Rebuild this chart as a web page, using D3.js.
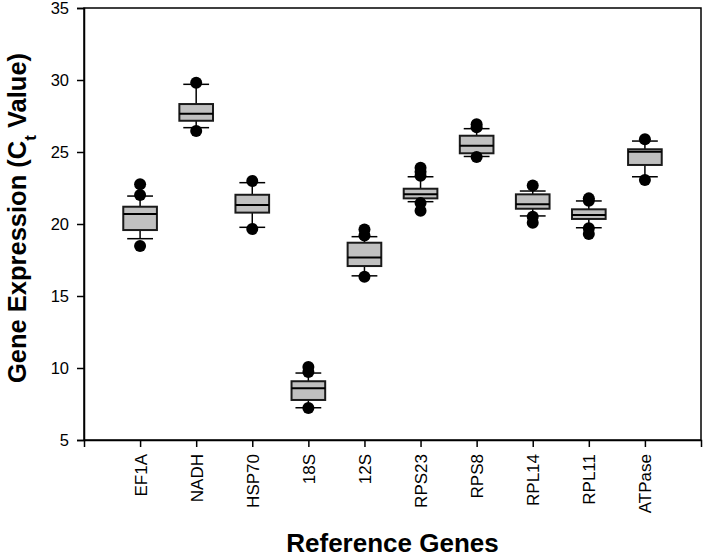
<!DOCTYPE html>
<html><head><meta charset="utf-8">
<script src="https://cdn.jsdelivr.net/npm/d3@7"></script>
<style>body{margin:0;background:#fff;} text{font-family:"Liberation Sans",Arial,sans-serif;}</style>
</head><body>
<svg id="chart" width="704" height="559"></svg>
<script>
const genes = ["EF1A","NADH","HSP70","18S","12S","RPS23","RPS8","RPL14","RPL11","ATPase"];
const whiskerLow  = [18.98, 26.69, 19.77, 7.24, 16.40, 21.55, 24.69, 20.56, 19.74, 23.28];
const q1          = [19.58, 27.17, 20.79, 7.78, 17.08, 21.78, 24.91, 21.06, 20.35, 24.10];
const median      = [20.69, 27.66, 21.32, 8.59, 17.67, 22.06, 25.44, 21.37, 20.63, 25.02];
const q3          = [21.20, 28.33, 22.03, 9.08, 18.70, 22.45, 26.13, 22.06, 21.02, 25.19];
const whiskerHigh = [21.94, 29.70, 22.87, 9.65, 19.12, 23.28, 26.62, 22.29, 21.60, 25.76];
const outliers = [
  [22.76, 22.01, 18.47],
  [29.81, 26.46],
  [22.99, 19.65],
  [10.07, 9.72, 7.22],
  [19.62, 19.20, 16.34],
  [23.91, 23.62, 23.35, 21.45, 20.92],
  [26.92, 26.72, 24.65],
  [22.67, 20.51, 20.09],
  [21.78, 21.62, 19.70, 19.31],
  [25.88, 23.06]
];
const yTicks = [5, 10, 15, 20, 25, 30, 35];

const svg = d3.select("#chart");
const mLeft = 84, mRight = 701, mTop = 8, mBottom = 440;
const x = d3.scaleLinear().domain([0, 11]).range([mLeft, mRight]);
const y = d3.scaleLinear().domain([5, 35]).range([mBottom, mTop]);
const boxW = x(0.6) - x(0), capW = x(0.46) - x(0);

// frame
svg.append("rect").attr("x", mLeft).attr("y", mTop).attr("width", mRight - mLeft).attr("height", mBottom - mTop)
  .attr("fill", "none").attr("stroke", "#000").attr("stroke-width", 1.5);

// y axis
const yAxis = svg.append("g").attr("transform", `translate(${mLeft},0)`)
  .call(d3.axisLeft(y).tickValues(yTicks).tickFormat(d3.format("d")).tickSize(7).tickPadding(8));
yAxis.select(".domain").attr("stroke-width", 1.5);
yAxis.selectAll(".tick line").attr("stroke-width", 1.5);
yAxis.selectAll("text").attr("font-size", 16.5).attr("fill", "#000").style("font-family", "Liberation Sans, Arial, sans-serif");

// x axis
const xAxis = svg.append("g").attr("transform", `translate(0,${mBottom})`)
  .call(d3.axisBottom(x).tickValues(d3.range(1, genes.length + 1)).tickFormat(i => genes[i - 1]).tickSize(7));
xAxis.select(".domain").attr("stroke-width", 1.5);
xAxis.selectAll(".tick line").attr("stroke-width", 1.5);
xAxis.selectAll("text").attr("font-size", 17).attr("fill", "#000")
  .style("font-family", "Liberation Sans, Arial, sans-serif")
  .attr("transform", "rotate(-90)").attr("text-anchor", "end")
  .attr("x", -14).attr("y", 0).attr("dy", "0.35em");

// boxes
const g = svg.append("g");
genes.forEach((name, i) => {
  const cx = x(i + 1);
  g.append("line").attr("x1", cx).attr("x2", cx).attr("y1", y(whiskerLow[i])).attr("y2", y(q1[i]))
    .attr("stroke", "#000").attr("stroke-width", 1.5);
  g.append("line").attr("x1", cx).attr("x2", cx).attr("y1", y(q3[i])).attr("y2", y(whiskerHigh[i]))
    .attr("stroke", "#000").attr("stroke-width", 1.5);
  [whiskerLow[i], whiskerHigh[i]].forEach(v => {
    g.append("line").attr("x1", cx - capW / 2).attr("x2", cx + capW / 2).attr("y1", y(v)).attr("y2", y(v))
      .attr("stroke", "#000").attr("stroke-width", 1.5);
  });
  g.append("rect").attr("x", cx - boxW / 2).attr("y", y(q3[i])).attr("width", boxW)
    .attr("height", y(q1[i]) - y(q3[i])).attr("fill", "#c0c0c0").attr("stroke", "#1a1a1a").attr("stroke-width", 2);
  g.append("line").attr("x1", cx - boxW / 2).attr("x2", cx + boxW / 2).attr("y1", y(median[i])).attr("y2", y(median[i]))
    .attr("stroke", "#000").attr("stroke-width", 2);
  outliers[i].forEach(v => {
    g.append("circle").attr("cx", cx).attr("cy", y(v)).attr("r", 6).attr("fill", "#000");
  });
});

// titles
const yt = svg.append("text").attr("transform", `translate(26,218) rotate(-90)`)
  .attr("text-anchor", "middle").attr("font-size", 25.5).attr("font-weight", "bold").attr("fill", "#000");
yt.append("tspan").text("Gene Expression (C");
yt.append("tspan").text("t").attr("font-size", 17).attr("baseline-shift", "sub");
yt.append("tspan").text(" Value)");

svg.append("text").attr("x", (mLeft + mRight) / 2).attr("y", 552).attr("text-anchor", "middle")
  .attr("font-size", 26).attr("font-weight", "bold").attr("fill", "#000").text("Reference Genes");
</script>
</body></html>
